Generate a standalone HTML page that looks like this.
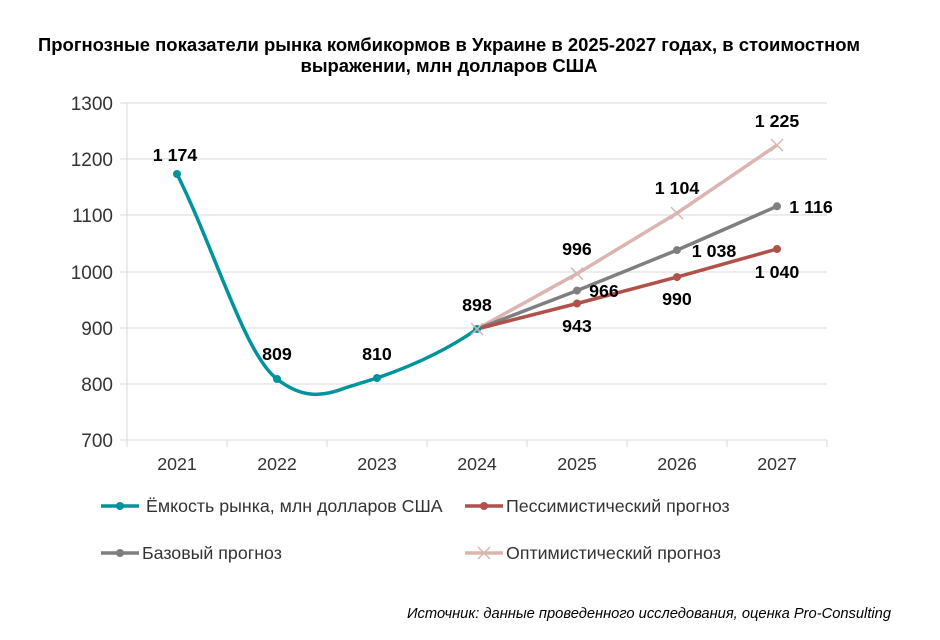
<!DOCTYPE html>
<html><head><meta charset="utf-8"><style>
body{margin:0;background:#fff;width:940px;height:635px;overflow:hidden}
text{font-family:"Liberation Sans",Arial,sans-serif}
</style></head><body>
<svg width="940" height="635" viewBox="0 0 940 635" xmlns="http://www.w3.org/2000/svg">
<text x="449" y="51" font-size="18.4" font-weight="bold" text-anchor="middle" textLength="822" lengthAdjust="spacingAndGlyphs">Прогнозные показатели рынка комбикормов в Украине в 2025-2027 годах, в стоимостном</text>
<text x="449" y="72" font-size="18.4" font-weight="bold" text-anchor="middle">выражении, млн долларов США</text>
<g stroke="#d9d9d9" stroke-width="1">
<line x1="120" y1="103" x2="827" y2="103"/><line x1="120" y1="159" x2="827" y2="159"/>
<line x1="120" y1="215" x2="827" y2="215"/><line x1="120" y1="272" x2="827" y2="272"/>
<line x1="120" y1="328" x2="827" y2="328"/><line x1="120" y1="384" x2="827" y2="384"/>
<line x1="127" y1="103" x2="127" y2="447"/>
<line x1="120" y1="440" x2="827" y2="440"/>
<line x1="227" y1="440" x2="227" y2="447"/><line x1="327" y1="440" x2="327" y2="447"/>
<line x1="427" y1="440" x2="427" y2="447"/><line x1="527" y1="440" x2="527" y2="447"/>
<line x1="627" y1="440" x2="627" y2="447"/><line x1="727" y1="440" x2="727" y2="447"/>
<line x1="827" y1="440" x2="827" y2="447"/>
</g>
<g font-size="19" fill="#333" text-anchor="end">
<text x="113" y="110">1300</text><text x="113" y="166">1200</text><text x="113" y="222">1100</text>
<text x="113" y="279">1000</text><text x="113" y="335">900</text><text x="113" y="391">800</text><text x="113" y="447">700</text>
</g>
<g font-size="17.8" fill="#333" text-anchor="middle">
<text x="177" y="470">2021</text><text x="277" y="470">2022</text><text x="377" y="470">2023</text>
<text x="477" y="470">2024</text><text x="577" y="470">2025</text><text x="677" y="470">2026</text><text x="777" y="470">2027</text>
</g>
<path d="M177,174 C215,250 245,355 277,379 C300,397 320,398 345,388 L377,378 C415,365 450,348 477,329" fill="none" stroke="#00939c" stroke-width="3.5"/>
<polyline points="477,329 577,273.7 677,213.1 777,145.1" fill="none" stroke="#dbb5b0" stroke-width="3.5"/>
<polyline points="477,329 577,290.6 677,250.1 777,206.3" fill="none" stroke="#7f7f7f" stroke-width="3.5"/>
<polyline points="477,329 577,303.5 677,277.1 777,249" fill="none" stroke="#b0514a" stroke-width="3.5"/>
<g fill="#00939c"><circle cx="177" cy="174" r="4"/><circle cx="277" cy="379" r="4"/><circle cx="377" cy="378" r="4"/><circle cx="477" cy="329" r="4"/></g>
<g fill="#7f7f7f"><circle cx="577" cy="290.6" r="4"/><circle cx="677" cy="250.1" r="4"/><circle cx="777" cy="206.3" r="4"/></g>
<g fill="#b0514a"><circle cx="577" cy="303.5" r="4"/><circle cx="677" cy="277.1" r="4"/><circle cx="777" cy="249" r="4"/></g>
<g stroke="#dbb5b0" stroke-width="1.5">
<path d="M571,267.7 l12,12 M583,267.7 l-12,12"/><path d="M671,207.1 l12,12 M683,207.1 l-12,12"/><path d="M771,139.1 l12,12 M783,139.1 l-12,12"/><path d="M471,323 l12,12 M483,323 l-12,12"/>
</g>
<g font-size="17.8" font-weight="bold" text-anchor="middle" fill="#000">
<text x="175" y="161">1 174</text><text x="277" y="360">809</text><text x="377" y="360">810</text><text x="477" y="311">898</text>
<text x="577" y="255">996</text><text x="677" y="194">1 104</text><text x="777" y="127">1 225</text>
<text x="604" y="297">966</text><text x="714" y="257">1 038</text><text x="811" y="213">1 116</text>
<text x="577" y="332">943</text><text x="677" y="305">990</text><text x="777" y="278">1 040</text>
</g>
<line x1="101" y1="506" x2="139" y2="506" stroke="#00939c" stroke-width="3.5"/><circle cx="120" cy="506" r="4" fill="#00939c"/>
<text x="146" y="512" font-size="17.8" fill="#333">Ёмкость рынка, млн долларов США</text>
<line x1="465" y1="506" x2="503" y2="506" stroke="#b0514a" stroke-width="3.5"/><circle cx="484" cy="506" r="4" fill="#b0514a"/>
<text x="506" y="512" font-size="17.8" fill="#333">Пессимистический прогноз</text>
<line x1="101" y1="553" x2="139" y2="553" stroke="#7f7f7f" stroke-width="3.5"/><circle cx="120" cy="553" r="4" fill="#7f7f7f"/>
<text x="142" y="559" font-size="17.8" fill="#333">Базовый прогноз</text>
<line x1="465" y1="553" x2="503" y2="553" stroke="#dbb5b0" stroke-width="3.5"/><path d="M478,547 l12,12 M490,547 l-12,12" stroke="#dbb5b0" stroke-width="1.5"/>
<text x="506" y="559" font-size="17.8" fill="#333">Оптимистический прогноз</text>
<text x="891" y="618" font-size="14.7" font-style="italic" text-anchor="end" fill="#000">Источник: данные проведенного исследования, оценка Pro-Consulting</text>
</svg>
</body></html>
